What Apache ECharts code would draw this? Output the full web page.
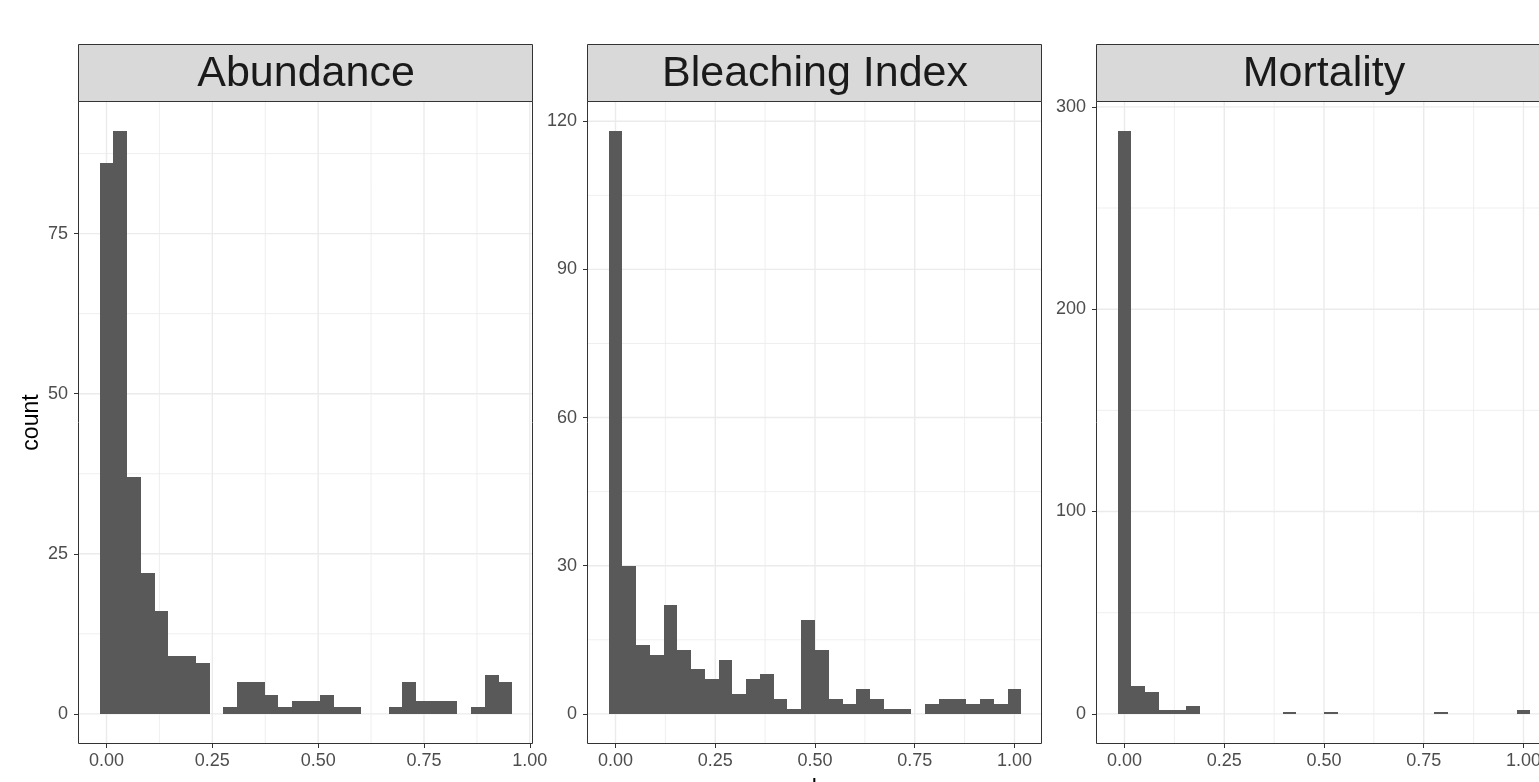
<!DOCTYPE html>
<html>
<head>
<meta charset="utf-8">
<script src="https://cdn.jsdelivr.net/npm/echarts@6/dist/echarts.min.js"></script>
<style>
html,body{margin:0;padding:0;background:#ffffff;}
#chart{width:1539px;height:782px;}
</style>
</head>
<body>
<div id="chart"></div>
<script>
// ---------- data ----------
const panelTitles = ['Abundance', 'Bleaching Index', 'Mortality'];

const abundanceCounts = [86, 91, 37, 22, 16, 9, 9, 8, 0, 1, 5, 5, 3, 1, 2, 2, 3, 1, 1, 0, 0, 1, 5, 2, 2, 2, 0, 1, 6, 5];
const abundanceFirstBin = 0;
const abundanceBinWidth = 0.0325;

const bleachingCounts = [118, 30, 14, 12, 22, 13, 9, 7, 11, 4, 7, 8, 3, 1, 19, 13, 3, 2, 5, 3, 1, 1, 0, 2, 3, 3, 2, 3, 2, 5];
const bleachingFirstBin = 0;
const bleachingBinWidth = 1 / 29;

const mortalityCounts = [288, 14, 11, 2, 2, 4, 0, 0, 0, 0, 0, 0, 1, 0, 0, 1, 0, 0, 0, 0, 0, 0, 0, 1, 0, 0, 0, 0, 0, 2];
const mortalityFirstBin = 0;
const mortalityBinWidth = 1 / 29;

const xTicks = [0, 0.25, 0.5, 0.75, 1];
const xMinorTicks = [0.125, 0.375, 0.625, 0.875];
const abundanceYTicks = [0, 25, 50, 75];
const abundanceYMinor = [12.5, 37.5, 62.5, 87.5];
const bleachingYTicks = [0, 30, 60, 90, 120];
const bleachingYMinor = [15, 45, 75, 105];
const mortalityYTicks = [0, 100, 200, 300];
const mortalityYMinor = [50, 150, 250];

const xTitle = 'value';
const yTitle = 'count';

// ---------- layout / style ----------
const PANEL_LEFT = [79, 588, 1097];
const PANEL_W = 454;
const PANEL_TOP = 102;
const PANEL_H = 641;
const STRIP_TOP = 44;
const FONT = "'Liberation Sans', Arial, Helvetica, sans-serif";
const BAR_FILL = '#595959';
const GRID_COL = '#EBEBEB';
const BORDER_COL = '#333333';

const panels = [
  {title: panelTitles[0], counts: abundanceCounts, first: abundanceFirstBin, w: abundanceBinWidth, yTicks: abundanceYTicks, yMinor: abundanceYMinor},
  {title: panelTitles[1], counts: bleachingCounts, first: bleachingFirstBin, w: bleachingBinWidth, yTicks: bleachingYTicks, yMinor: bleachingYMinor},
  {title: panelTitles[2], counts: mortalityCounts, first: mortalityFirstBin, w: mortalityBinWidth, yTicks: mortalityYTicks, yMinor: mortalityYMinor}
];

function xLimits(p) {
  const lo = p.first - p.w / 2;
  const hi = p.first + (p.counts.length - 1) * p.w + p.w / 2;
  const e = (hi - lo) * 0.05;
  return [lo - e, hi + e];
}
function yLimits(p) {
  const m = Math.max.apply(null, p.counts);
  return [-0.05 * m, 1.05 * m];
}

const grids = [], xAxes = [], yAxes = [], series = [], graphics = [];

panels.forEach((p, i) => {
  const xl = xLimits(p), yl = yLimits(p);
  grids.push({left: PANEL_LEFT[i], top: PANEL_TOP, width: PANEL_W, height: PANEL_H,
    show: true, backgroundColor: '#ffffff', borderWidth: 0, containLabel: false, outerBoundsMode: 'none'});
  xAxes.push({
    type: 'value', gridIndex: i, min: xl[0], max: xl[1], position: 'bottom',
    axisLine: {show: false, onZero: false},
    axisTick: {show: true, customValues: xTicks, length: 5, lineStyle: {color: BORDER_COL, width: 1}},
    axisLabel: {show: true, customValues: xTicks, color: '#4D4D4D', fontSize: 18, fontFamily: FONT, margin: 9,
      formatter: v => Number(v).toFixed(2)},
    splitLine: {show: false}
  });
  yAxes.push({
    type: 'value', gridIndex: i, min: yl[0], max: yl[1], position: 'left',
    axisLine: {show: false, onZero: false},
    axisTick: {show: true, customValues: p.yTicks, length: 5, lineStyle: {color: BORDER_COL, width: 1}},
    axisLabel: {show: true, customValues: p.yTicks, color: '#4D4D4D', fontSize: 18, fontFamily: FONT, margin: 11},
    splitLine: {show: false}
  });

  // gridlines: [x, y, horizontal?, minor?]
  const gl = [];
  xMinorTicks.forEach(v => gl.push([v, 0, 0, 1]));
  p.yMinor.forEach(v => gl.push([0, v, 1, 1]));
  xTicks.forEach(v => gl.push([v, 0, 0, 0]));
  p.yTicks.forEach(v => gl.push([0, v, 1, 0]));
  series.push({
    type: 'custom', xAxisIndex: i, yAxisIndex: i, silent: true, z: 1,
    data: gl,
    renderItem: (params, api) => {
      const cs = params.coordSys;
      const minor = api.value(3) === 1;
      const style = {stroke: GRID_COL, lineWidth: minor ? 0.8 : 1.4};
      if (api.value(2) === 1) {
        const y = api.coord([0, api.value(1)])[1];
        return {type: 'line', shape: {x1: cs.x, y1: y, x2: cs.x + cs.width, y2: y}, style: style};
      }
      const x = api.coord([api.value(0), 0])[0];
      return {type: 'line', shape: {x1: x, y1: cs.y, x2: x, y2: cs.y + cs.height}, style: style};
    }
  });

  // histogram bars
  const w = p.w;
  series.push({
    type: 'custom', xAxisIndex: i, yAxisIndex: i, silent: true, z: 2,
    data: p.counts.map((c, k) => [p.first + k * w, c]),
    renderItem: (params, api) => {
      const c = api.value(1);
      if (c <= 0) return null;
      const a = api.coord([api.value(0) - w / 2, 0]);
      const b = api.coord([api.value(0) + w / 2, c]);
      const x0 = Math.round(a[0]), x1 = Math.round(b[0]);
      const y0 = Math.round(a[1]), y1 = Math.round(b[1]);
      return {type: 'rect', shape: {x: x0, y: y1, width: x1 - x0, height: Math.max(1, y0 - y1)},
        style: {fill: BAR_FILL}};
    }
  });

  // panel border
  graphics.push({type: 'rect', z: 100, silent: true,
    shape: {x: PANEL_LEFT[i] - 0.5, y: PANEL_TOP - 0.5, width: PANEL_W, height: PANEL_H + 1},
    style: {fill: 'none', stroke: BORDER_COL, lineWidth: 1}});
  // strip
  graphics.push({type: 'rect', z: 100, silent: true,
    shape: {x: PANEL_LEFT[i] - 0.5, y: STRIP_TOP + 0.5, width: PANEL_W, height: PANEL_TOP - STRIP_TOP - 1},
    style: {fill: '#D9D9D9', stroke: BORDER_COL, lineWidth: 1}});
  graphics.push({type: 'text', z: 101, silent: true,
    x: PANEL_LEFT[i] + PANEL_W / 2, y: (STRIP_TOP + PANEL_TOP) / 2 + 1,
    style: {text: p.title, fill: '#1A1A1A', fontSize: 43, fontFamily: FONT, align: 'center', verticalAlign: 'middle'}});
});

// axis titles
graphics.push({type: 'text', z: 101, silent: true, x: 32, y: PANEL_TOP + PANEL_H / 2, rotation: Math.PI / 2,
  style: {text: yTitle, fill: '#000000', fontSize: 23, fontFamily: FONT, align: 'center', verticalAlign: 'middle'}});
graphics.push({type: 'text', z: 101, silent: true, x: (PANEL_LEFT[0] + PANEL_LEFT[2] + PANEL_W) / 2, y: 790,
  style: {text: xTitle, fill: '#000000', fontSize: 23, fontFamily: FONT, align: 'center', verticalAlign: 'middle'}});

const chart = echarts.init(document.getElementById('chart'), null, {renderer: 'canvas'});
chart.setOption({
  backgroundColor: '#ffffff',
  animation: false,
  grid: grids,
  xAxis: xAxes,
  yAxis: yAxes,
  series: series,
  graphic: graphics
});
</script>
</body>
</html>
